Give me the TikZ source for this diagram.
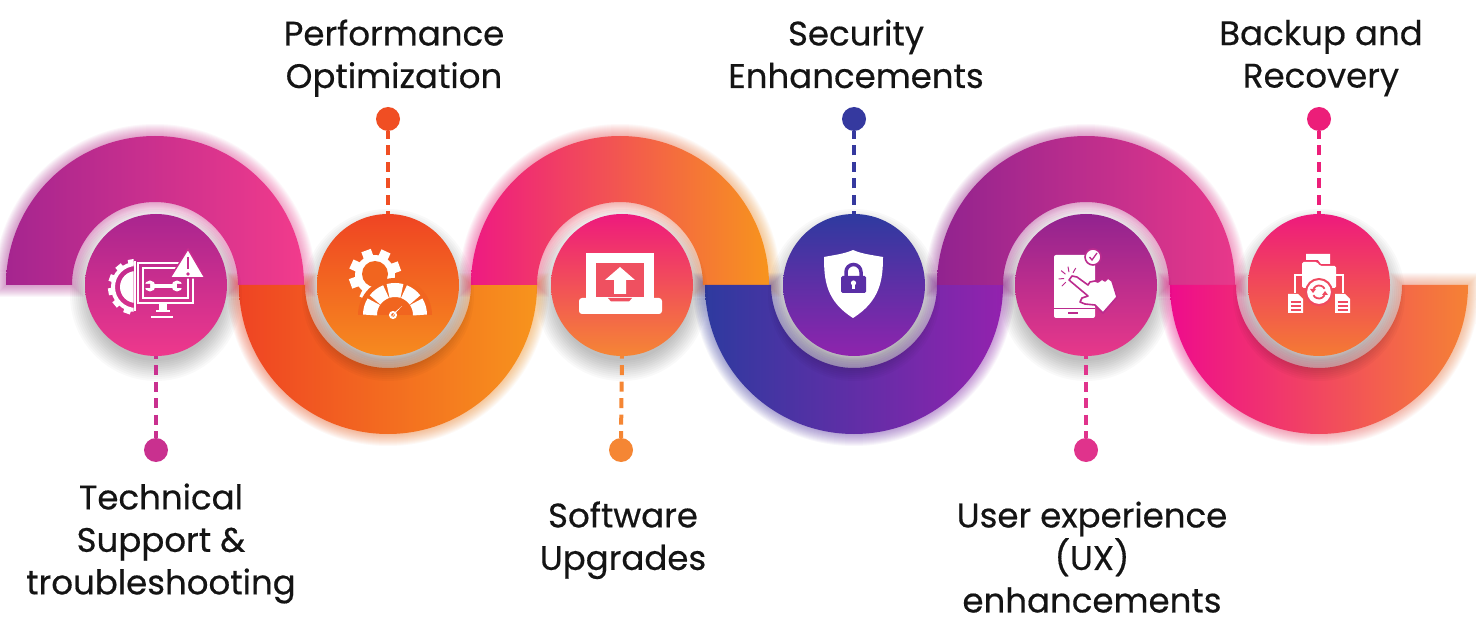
\documentclass[tikz,border=0pt]{standalone}
\usepackage{fontspec}
\setmainfont{Poppins}[FakeBold=0.45]
\definecolor{aA}{HTML}{A5258F}\definecolor{bA}{HTML}{F23B8C}
\definecolor{aB}{HTML}{EF4423}\definecolor{bB}{HTML}{F7941D}
\definecolor{aC}{HTML}{EE1A82}\definecolor{bC}{HTML}{F7941D}
\definecolor{aD}{HTML}{2E3A9F}\definecolor{bD}{HTML}{9322AE}
\definecolor{aE}{HTML}{91238F}\definecolor{bE}{HTML}{E8388A}
\definecolor{aF}{HTML}{EE0C8C}\definecolor{bF}{HTML}{F58234}
\definecolor{tA}{HTML}{A9258F}\definecolor{uA}{HTML}{EE388C}
\definecolor{tB}{HTML}{EF4423}\definecolor{uB}{HTML}{F68B1F}
\definecolor{tC}{HTML}{EE1A7D}\definecolor{uC}{HTML}{F58634}
\definecolor{tD}{HTML}{2E3A9F}\definecolor{uD}{HTML}{8F24AD}
\definecolor{tE}{HTML}{91238F}\definecolor{uE}{HTML}{E8388A}
\definecolor{tF}{HTML}{EE1A7D}\definecolor{uF}{HTML}{F47B33}
\definecolor{dotA}{HTML}{C9308F}\definecolor{dotB}{HTML}{F04E23}
\definecolor{dotC}{HTML}{F58634}\definecolor{dotD}{HTML}{35399F}
\definecolor{dotE}{HTML}{E0338C}\definecolor{dotF}{HTML}{EC1E79}
\definecolor{holeA}{HTML}{C92E8F}\definecolor{holeB}{HTML}{F1651F}
\definecolor{holeC}{HTML}{EF5060}\definecolor{holeD}{HTML}{5A2FA6}
\definecolor{holeE}{HTML}{BB2B8E}\definecolor{holeF}{HTML}{EF4A60}
\newcommand{\halfring}[5]{
  ({#1-#2},{356-#4*#5}) -- ({#1-#2},356)
  arc[start angle=180,end angle={180-#4*180},radius=#2]
  -- ({#1+#2},{356-#4*#5}) -- ({#1+#3},{356-#4*#5}) -- ({#1+#3},356)
  arc[start angle={180-#4*180},end angle=180,radius=#3]
  -- ({#1-#3},{356-#4*#5}) -- cycle}
\newcommand{\bandglow}[4]{
  \foreach \k in {1,...,12}{
    \shade[left color=#3,right color=#4,opacity=0.045] \halfring{#1}{(149+\k)}{(83-\k)}{#2}{\k};
  }
  }
\newcommand{\discshadow}[1]{
  \foreach \k in {66,68,...,86}{
    \fill[black,opacity=0.025] (#1,346) circle[radius=\k];
  }
}
\newcommand{\ls}{\rule[-9pt]{0pt}{34pt}}
\tikzset{
  disc/.style 2 args={circle,minimum size=142pt,inner sep=0pt,top color=#1,bottom color=#2,shading angle=0},
  pin/.style={circle,minimum size=24pt,inner sep=0pt,fill=#1},
  lead/.style={#1,line width=4pt,dash pattern=on 10pt off 6.5pt,dash phase=7.5pt},
  lab/.style={text=black!92,align=center,font=\fontsize{34}{42.5}\selectfont},
  ic/.style={fill=white,draw=none}
}
\begin{document}
\begin{tikzpicture}[x=1pt,y=1pt]
\useasboundingbox (0,0) rectangle (1476,641);
\fill[white] (0,0) rectangle (1476,641);
% glows
\bandglow{155}{1}{aA}{bA}
\bandglow{388}{-1}{aB}{bB}
\bandglow{620}{1}{aC}{bC}
\bandglow{854}{-1}{aD}{bD}
\bandglow{1086}{1}{aE}{bE}
\bandglow{1319}{-1}{aF}{bF}
% bands
\shade[left color=aA,right color=bA] \halfring{155}{149}{83}{1}{0};
\shade[left color=aB,right color=bB] \halfring{388}{149}{83}{-1}{0};
\shade[left color=aC,right color=bC] \halfring{620}{149}{83}{1}{0};
\shade[left color=aD,right color=bD] \halfring{854}{149}{83}{-1}{0};
\shade[left color=aE,right color=bE] \halfring{1086}{149}{83}{1}{0};
\shade[left color=aF,right color=bF] \halfring{1319}{149}{83}{-1}{0};
% shadows
\foreach \cx in {156,388,622,854,1086,1319}{\discshadow{\cx}}
% pins and leads
\node[pin=dotA] (d1) at (156,191) {};
\node[pin=dotB] (d2) at (388,522) {};
\node[pin=dotC] (d3) at (621,191) {};
\node[pin=dotD] (d4) at (854,522) {};
\node[pin=dotE] (d5) at (1086,191) {};
\node[pin=dotF] (d6) at (1319,522) {};
% discs
\node[disc={tA}{uA}] (c1) at (156,356) {};
\node[disc={tB}{uB}] (c2) at (388,356) {};
\node[disc={tC}{uC}] (c3) at (622,356) {};
\node[disc={tD}{uD}] (c4) at (854,356) {};
\node[disc={tE}{uE}] (c5) at (1086,356) {};
\node[disc={tF}{uF}] (c6) at (1319,356) {};
\draw[lead=dotA] (c1.south) -- (d1.north);
\draw[lead=dotB] (c2.north) -- (d2.south);
\draw[lead=dotC] (c3.south) -- (d3.north);
\draw[lead=dotD] (c4.north) -- (d4.south);
\draw[lead=dotE] (c5.south) -- (d5.north);
\draw[lead=dotF] (c6.north) -- (d6.south);
% icon 1: monitor, gear, warning
\begin{scope}[shift={(156,356)}]
  \begin{scope}
    \clip (-50,-40) rectangle (-22.5,40);
    \draw[white,line width=4pt] (-20,-2) circle[radius=23];
    \foreach \a in {100,130,160,190,220,250}{
      \fill[white,rotate around={\a:(-20,-2)}] (-20+22,-2-3.5) rectangle (-20+28,-2+3.5);
    }
    \fill[white] (-20,-2) circle[radius=16];
  \end{scope}
  \fill[white] (-22,-26) rectangle (-20,24);
  \draw[white,line width=2pt] (-18,22) rectangle (37,-18);
  \draw[white,line width=2pt] (-13,17) rectangle (32,-13);
  \fill[white] (3,-18) rectangle (11,-26);
  \fill[white] (0,-25) rectangle (14,-27);
  \fill[white] (-5,-31) rectangle (17,-33);
  \draw[white,line width=3.5pt] (-6,-1) -- (21,-1);
  \fill[white] (-6,-1) circle[radius=5.5] (21,-1) circle[radius=5.5];
  \fill[holeA] (-12,-3) rectangle (-6,1) (21,-3) rectangle (27,1);
  \fill[white,draw=holeA,line width=1.5pt,line join=round] (32,36) -- (14,7) -- (49,7) -- cycle;
  \draw[holeA,line width=2.5pt] (32,28) -- (32,16);
  \fill[holeA] (32,11) circle[radius=1.8];
\end{scope}
% icon 2: gear and gauge
\begin{scope}[shift={(388,356)}]
  \fill[white] (-13,10) circle[radius=20];
  \foreach \a in {0,45,...,315}{
    \fill[white,rotate around={\a+20:(-13,10)}] (5,5) rectangle (13,15);
  }
  \fill[holeB] (-13,11) circle[radius=13];
  \fill[holeB] (7,-30) -- (-30,-30) arc[start angle=180,end angle=0,radius=37] -- cycle;
  \foreach \a in {180,143,106,69,32}{
    \draw[white,line width=14pt] (7,-30) ++(\a:25) arc[start angle=\a,end angle={\a-32},radius=25];
  }
  \draw[white,line width=2pt] (5,-30) circle[radius=3];
  \fill[white] (7,-27) -- (14,-21) -- (3,-33) -- cycle;
\end{scope}
% icon 3: laptop and upload arrow
\begin{scope}[shift={(622,356)}]
  \fill[white] (-36,32) rectangle (32,-14);
  \fill[holeC] (-26,22) rectangle (22,-12);
  \fill[white,rounded corners=3pt] (-43,-13) -- (40,-13) -- (40,-29) -- (-43,-29) -- cycle;
  \fill[holeC] (-14,-13) -- (10,-13) -- (7,-16.5) -- (-11,-16.5) -- cycle;
  \fill[white] (-2,18) -- (13,5) -- (4,5) -- (4,-9) -- (-8,-9) -- (-8,5) -- (-17,5) -- cycle;
\end{scope}
% icon 4: shield and lock
\begin{scope}[shift={(854,356)}]
  \fill[white] (-1,35) .. controls (-10,31) and (-20,30) .. (-30,28)
    .. controls (-30,5) and (-28,-16) .. (-1,-33)
    .. controls (26,-16) and (29,5) .. (29,28)
    .. controls (18,30) and (8,31) .. (-1,35) -- cycle;
  \fill[holeD,rounded corners=1.5pt] (-13,9) rectangle (12,-8);
  \draw[holeD,line width=3.5pt] (-8,9) -- (-8,13) arc[start angle=180,end angle=0,radius=7.5] -- (7,9);
  \fill[white] (-0.5,2) circle[radius=2.6];
  \fill[white] (-2,2) -- (1,2) -- (1,-4) -- (-2,-4) -- cycle;
\end{scope}
% icon 5: tablet and hand
\begin{scope}[shift={(1086,356)}]
  \fill[white,rounded corners=2pt] (-32,30) rectangle (9,-33);
  \draw[holeE,line width=1pt] (-32,-24) -- (9,-24);
  \draw[holeE,line width=1.5pt] (-18,-28) -- (-8,-28);
  \foreach \a in {60,100,140,185,225}{
    \draw[holeE,line width=1pt] (-16,7) ++(\a:6) -- ++(\a:5.5);
  }
  \fill[white,draw=holeE,line width=1.6pt,line join=round] (-17,5) -- (-14,9) -- (-9,8) -- (2,0) -- (4,3) -- (9,4) -- (12,3) -- (16,6) -- (19,4) -- (22,7) -- (26,4) -- (31,-12) -- (17,-28) -- (9,-20) -- (-1,-19) -- (-6,-17) -- (-4,-13) -- (2,-11) -- cycle;
  \fill[white,draw=holeE,line width=1.6pt] (7,28) circle[radius=8];
  \draw[holeE,line width=1.3pt] (3.5,28) -- (6,25) -- (11,32);
\end{scope}
% icon 6: folder, sync and documents
\begin{scope}[shift={(1319,356)}]
  \fill[white] (-13,31) -- (11,31) -- (11,21) -- (2,21) -- (-1,25) -- (-13,25) -- cycle;
  \fill[white,rounded corners=1.5pt] (-17,23) -- (-2,23) -- (1,19) -- (17,19) -- (17,-3) -- (-17,-3) -- cycle;
  \draw[white,line width=1.5pt] (-17,10) -- (-24,10) -- (-24,-8);
  \draw[white,line width=1.5pt] (17,10) -- (24,10) -- (24,-8);
  \fill[white,draw=holeF,line width=2pt] (0,-7) circle[radius=13];
  \draw[holeF,line width=1.8pt] (0,-7) ++(30:6.5) arc[start angle=30,end angle=150,radius=6.5];
  \draw[holeF,line width=1.8pt] (0,-7) ++(210:6.5) arc[start angle=210,end angle=330,radius=6.5];
  \fill[holeF] (-9,-4) -- (-3,-4) -- (-6,-8) -- cycle (9,-10) -- (3,-10) -- (6,-6) -- cycle;
  \foreach \dx in {-31,16}{
    \fill[white] (\dx,-9) -- (\dx+10,-9) -- (\dx+15,-14) -- (\dx+15,-28) -- (\dx,-28) -- cycle;
    \foreach \yy in {-17,-21,-25}{
      \draw[holeF,line width=1.6pt] (\dx+2.5,\yy) -- (\dx+12.5,\yy);
    }
  }
\end{scope}
% labels
\node[lab] (l1) at (161,97.5) {\ls Technical\\\ls Support \&\\\ls troubleshooting};
\node[lab] (l2) at (394,582.75) {\ls Performance\\\ls Optimization};
\node[lab] (l3) at (623,100.75) {\ls Software\\\ls Upgrades};
\node[lab] (l4) at (856,582.75) {\ls Security\\\ls Enhancements};
\node[lab] (l5) at (1092,79.5) {\ls User experience\\\ls (UX)\\\ls enhancements};
\node[lab] (l6) at (1321,582.75) {\ls Backup and\\\ls Recovery};
\end{tikzpicture}
\end{document}
